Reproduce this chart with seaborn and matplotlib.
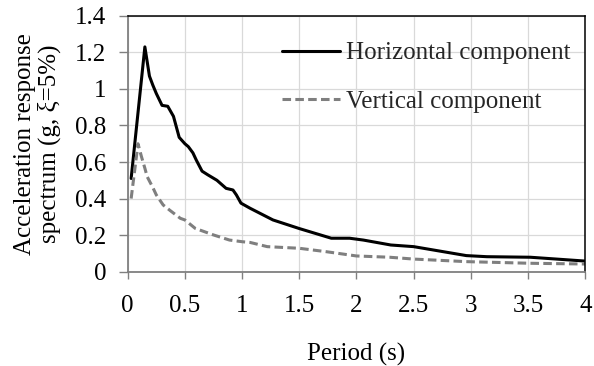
import matplotlib
matplotlib.use("Agg")
import matplotlib.pyplot as plt
import seaborn as sns
import pandas as pd

# Response spectrum ordinates (period in s, spectral acceleration in g)
h_period = [0.03, 0.15, 0.19, 0.22, 0.25, 0.30, 0.35, 0.40, 0.45, 0.50, 0.53,
            0.57, 0.60, 0.65, 0.70, 0.78, 0.86, 0.92, 0.95, 0.99, 1.07, 1.27,
            1.50, 1.78, 1.94, 2.06, 2.30, 2.50, 2.96, 3.14, 3.52, 4.00]
h_accel = [0.51, 1.23, 1.07, 1.02, 0.975, 0.91, 0.905, 0.85, 0.735, 0.70, 0.684,
           0.65, 0.61, 0.55, 0.53, 0.50, 0.456, 0.447, 0.42, 0.375, 0.347, 0.283,
           0.236, 0.183, 0.183, 0.173, 0.146, 0.137, 0.088, 0.082, 0.079, 0.058]

v_period = [0.03, 0.09, 0.12, 0.15, 0.17, 0.22, 0.25, 0.31, 0.37, 0.46, 0.50,
            0.59, 0.75, 0.84, 0.89, 1.00, 1.07, 1.22, 1.50, 1.74, 2.00, 2.29,
            2.50, 2.96, 3.52, 4.00]
v_accel = [0.40, 0.70, 0.63, 0.566, 0.52, 0.46, 0.42, 0.365, 0.335, 0.292, 0.283,
           0.237, 0.201, 0.183, 0.173, 0.164, 0.160, 0.137, 0.128, 0.109, 0.086,
           0.079, 0.069, 0.055, 0.046, 0.042]

series_names = ["Horizontal component", "Vertical component"]
x_ticks = [0, 0.5, 1, 1.5, 2, 2.5, 3, 3.5, 4]
y_ticks = [0, 0.2, 0.4, 0.6, 0.8, 1, 1.2, 1.4]

df = pd.concat([
    pd.DataFrame({"Period": h_period, "Sa": h_accel, "Component": series_names[0]}),
    pd.DataFrame({"Period": v_period, "Sa": v_accel, "Component": series_names[1]}),
], ignore_index=True)

sns.set_theme(style="white")
plt.rcParams["font.family"] = ["Liberation Serif", "DejaVu Serif"]

fig = plt.figure(figsize=(5.94, 3.66), dpi=100)
ax = fig.add_axes([0.215, 0.2577, 0.7703, 0.6991])

lw = 2.2
sns.lineplot(data=df, x="Period", y="Sa", hue="Component", style="Component",
             palette={series_names[0]: "black", series_names[1]: "#7f7f7f"},
             dashes={series_names[0]: "", series_names[1]: (2.8, 1.4)},
             linewidth=lw, ax=ax, sort=False)

ax.set_xlim(0, 4)
ax.set_ylim(0, 1.4)
ax.set_xticks(x_ticks)
ax.set_xticklabels([f"{t:g}" for t in x_ticks])
ax.set_yticks(y_ticks)
ax.set_yticklabels([f"{t:g}" for t in y_ticks])

ax.grid(True, color="#d9d9d9", linewidth=0.9)
ax.set_axisbelow(True)

for side in ["left", "bottom"]:
    ax.spines[side].set_color("#808080")
    ax.spines[side].set_linewidth(1.3)
for side in ["top", "right"]:
    ax.spines[side].set_color("black")
    ax.spines[side].set_linewidth(1.1)

ax.tick_params(axis="both", which="major", direction="out", width=1.0,
               color="#808080", labelsize=18, labelcolor="black")
ax.tick_params(axis="x", bottom=True, length=5, pad=12)
ax.tick_params(axis="y", left=True, length=6.8, pad=8.4)

ax.set_xlabel("Period (s)", fontsize=18, color="black")
ax.xaxis.set_label_coords(0.5, -0.28)
ax.set_ylabel("Acceleration response\nspectrum (g, ξ=5%)", fontsize=18,
              color="black", linespacing=1.1)
ax.yaxis.set_label_coords(-0.146, 0.5)

leg = ax.legend(loc="upper right", bbox_to_anchor=(0.99, 0.937), frameon=False,
                fontsize=18, handlelength=2.3, handletextpad=0.25,
                labelspacing=1.05, borderaxespad=0)
for line in leg.get_lines():
    line.set_linewidth(lw)

fig.savefig("out.png", dpi=100)
